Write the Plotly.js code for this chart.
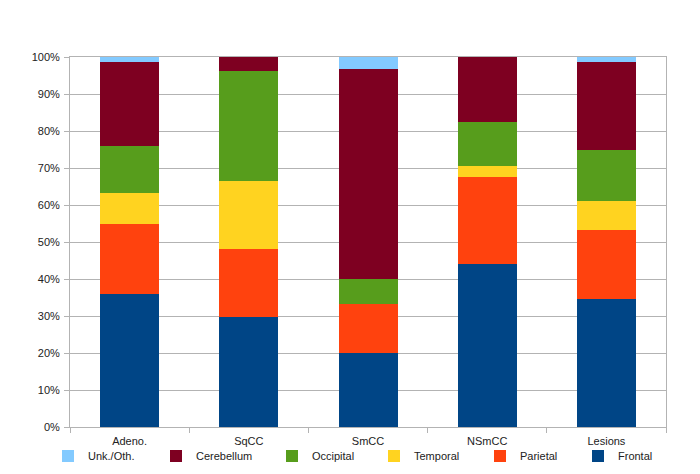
<!DOCTYPE html>
<html>
<head>
<meta charset="utf-8">
<script src="https://cdn.plot.ly/plotly-3.0.1.min.js"></script>
<style>html,body{margin:0;padding:0;background:#fff;}#chart{width:700px;height:474px;}</style>
</head>
<body>
<div id="chart"></div>
<script>
const categories = ["Adeno.", "SqCC", "SmCC", "NSmCC", "Lesions"];
const frontal    = [36.0, 29.6, 20.0, 44.1, 34.5];
const parietal   = [18.9, 18.5, 13.3, 23.5, 18.7];
const temporal   = [ 8.4, 18.5,  0.0,  2.9,  7.9];
const occipital  = [12.7, 29.6,  6.7, 11.8, 13.8];
const cerebellum = [22.7,  3.7, 56.7, 17.6, 23.8];
const unkOth     = [ 1.3,  0.0,  3.3,  0.0,  1.3];
const yTickVals  = [0, 10, 20, 30, 40, 50, 60, 70, 80, 90, 100];
const yTickText  = ["0%", "10%", "20%", "30%", "40%", "50%", "60%", "70%", "80%", "90%", "100%"];

const series = [
  {name: "Frontal",     y: frontal,    color: "#004586", legend: "legend6", lx: 578},
  {name: "Parietal",    y: parietal,   color: "#ff420e", legend: "legend5", lx: 480},
  {name: "Temporal",    y: temporal,   color: "#ffd320", legend: "legend4", lx: 374},
  {name: "Occipital",   y: occipital,  color: "#579d1c", legend: "legend3", lx: 272},
  {name: "Cerebellum",  y: cerebellum, color: "#7e0021", legend: "legend2", lx: 156},
  {name: "Unk./Oth.",   y: unkOth,     color: "#83caff", legend: "legend",  lx: 48}
];

const traces = series.map(s => ({
  type: "bar",
  name: s.name,
  x: categories,
  y: s.y,
  marker: {color: s.color, line: {width: 0}},
  legend: s.legend,
  hoverinfo: "name+y"
}));

const font = {family: "Liberation Sans, Arial, sans-serif", size: 11, color: "#222"};

const layout = {
  width: 700, height: 474,
  margin: {l: 70, r: 34, t: 57, b: 47},
  paper_bgcolor: "#fff",
  plot_bgcolor: "#fff",
  barmode: "stack",
  bargap: 0.505,
  font: font,
  showlegend: true,
  xaxis: {
    type: "category",
    tickson: "boundaries",
    ticks: "outside",
    ticklen: 5,
    tickcolor: "#b3b3b3",
    showline: true,
    linecolor: "#b3b3b3",
    linewidth: 1,
    mirror: true,
    showgrid: false,
    tickfont: font,
    ticklabelstandoff: 4,
    fixedrange: true
  },
  yaxis: {
    range: [0, 100],
    tickvals: yTickVals,
    ticktext: yTickText,
    ticks: "outside",
    ticklen: 5,
    tickcolor: "#b3b3b3",
    showline: true,
    linecolor: "#b3b3b3",
    linewidth: 1,
    mirror: true,
    showgrid: true,
    gridcolor: "#b3b3b3",
    gridwidth: 1,
    zeroline: false,
    tickfont: font,
    ticklabelstandoff: 2,
    fixedrange: true
  }
};

series.forEach(s => {
  layout[s.legend] = {
    orientation: "h",
    xref: "container", yref: "container",
    x: s.lx / 700, xanchor: "left",
    y: 0.038, yanchor: "middle",
    font: font,
    bgcolor: "rgba(0,0,0,0)"
  };
});

Plotly.newPlot("chart", traces, layout, {displayModeBar: false, staticPlot: true});
</script>
</body>
</html>
